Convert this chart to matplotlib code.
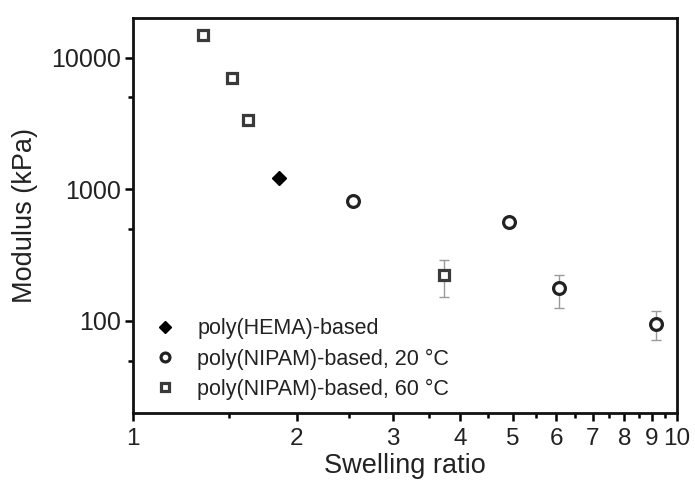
import matplotlib
matplotlib.use("Agg")
import matplotlib.pyplot as plt
from matplotlib.ticker import FixedLocator, FixedFormatter, NullFormatter

plt.rcParams['font.family'] = ['Liberation Sans', 'DejaVu Sans']

# poly(HEMA)-based hydrogel
hema_x = [1.855]
hema_y = [1210]

# poly(NIPAM)-based, 20 °C
nipam20_x = [2.54, 4.91, 6.07, 9.15]
nipam20_y = [811, 565, 177, 95]
nipam20_lo = [20, 50, 52, 23]
nipam20_hi = [20, 20, 48, 24]

# poly(NIPAM)-based, 60 °C
nipam60_x = [1.345, 1.52, 1.626, 3.73]
nipam60_y = [14900, 6950, 3360, 222]
nipam60_lo = [300, 200, 300, 71]
nipam60_hi = [300, 200, 150, 70]

x_ticks = [1, 2, 3, 4, 5, 6, 7, 8, 9, 10]
x_minor = [1.5, 2.5, 3.5, 4.5, 5.5, 6.5, 7.5, 8.5, 9.5]
y_ticks = [100, 1000, 10000]
y_minor = [50, 500, 5000]

fig = plt.figure(figsize=(6.95, 4.84), dpi=100)
ax = fig.add_axes([0.1914, 0.1467, 0.7826, 0.8161])

ax.set_xscale('log')
ax.set_yscale('log')
ax.set_xlim(1, 10)
ax.set_ylim(20, 20000)

err_kw = dict(fmt='none', ecolor='#9a9a9a', elinewidth=1.0, capsize=3.5, capthick=1.0)

# error bars first, markers drawn on top
ax.errorbar(nipam20_x, nipam20_y, yerr=[nipam20_lo, nipam20_hi], **err_kw)
ax.errorbar(nipam60_x, nipam60_y, yerr=[nipam60_lo, nipam60_hi], **err_kw)

ax.plot(hema_x, hema_y, 'D', color='black', markersize=7.5,
        label='poly(HEMA)-based')
ax.plot(nipam20_x, nipam20_y, 'o', markersize=8.5, markerfacecolor='white',
        markeredgecolor='#222222', markeredgewidth=2.3,
        label='poly(NIPAM)-based, 20 °C')
ax.plot(nipam60_x, nipam60_y, 's', markersize=7.8, markerfacecolor='white',
        markeredgecolor='#3a3a3a', markeredgewidth=2.3,
        label='poly(NIPAM)-based, 60 °C')

ax.xaxis.set_major_locator(FixedLocator(x_ticks))
ax.xaxis.set_major_formatter(FixedFormatter([str(v) for v in x_ticks]))
ax.xaxis.set_minor_locator(FixedLocator(x_minor))
ax.xaxis.set_minor_formatter(NullFormatter())
ax.yaxis.set_major_locator(FixedLocator(y_ticks))
ax.yaxis.set_major_formatter(FixedFormatter([str(v) for v in y_ticks]))
ax.yaxis.set_minor_locator(FixedLocator(y_minor))
ax.yaxis.set_minor_formatter(NullFormatter())

ax.tick_params(which='major', direction='out', length=6, width=1.8,
               labelsize=18, colors='black', labelcolor='#222222', pad=3)
ax.tick_params(which='minor', direction='out', length=3.5, width=1.8)
ax.tick_params(top=False, right=False)
ax.tick_params(axis='x', which='major', labelsize=17.5, pad=5)

for sp in ax.spines.values():
    sp.set_linewidth(2.0)
    sp.set_color('#111111')

ax.set_xlabel('Swelling ratio', fontsize=19.5, color='#222222', labelpad=2)
ax.set_ylabel('Modulus (kPa)', fontsize=19.5, color='#222222', labelpad=9)

leg = ax.legend(loc='lower left', bbox_to_anchor=(0.0, -0.02), frameon=False,
                fontsize=15.5, handlelength=1.0, handletextpad=1.0,
                labelspacing=0.42, borderaxespad=0.58, markerscale=0.75)
for t in leg.get_texts():
    t.set_color('#222222')

fig.savefig('out.png', dpi=100)
